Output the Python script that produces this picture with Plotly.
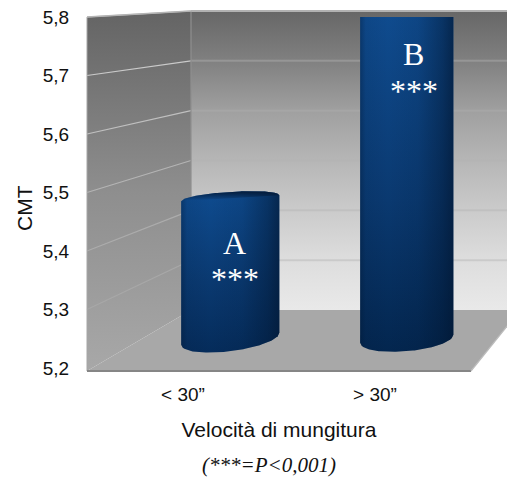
import numpy as np
import plotly.graph_objects as go

# Chart data
CATEGORIES = ["< 30”", "> 30”"]
CMT_VALUES = [5.49, 5.80]
BAR_LETTERS = ["A", "B"]
SIGNIFICANCE = ["***", "***"]
TICK_VALUES = [5.2, 5.3, 5.4, 5.5, 5.6, 5.7, 5.8]
Y_TITLE = "CMT"
X_TITLE = "Velocità di mungitura"
FOOTNOTE = "(***=P<0,001)"

# Page size and the pseudo-3D frame, in page pixels
W, H = 507, 480
FRONT_L, FRONT_R = 87, 471
BACK_L, BACK_R = 191, 507
Y52_FRONT, Y58_FRONT = 368.0, 17.0
Y52_BACK, Y58_BACK = 310.0, 11.0
FLOOR_FRONT = 371.0
BAR_BASE = 5.25


def py_flip(py):
    return H - py


def front_y(v):
    return Y52_FRONT + (v - 5.2) * (Y58_FRONT - Y52_FRONT) / 0.6


def back_y(v):
    return Y52_BACK + (v - 5.2) * (Y58_BACK - Y52_BACK) / 0.6


fig = go.Figure()


def backdrop(xs, ys, colorscale=None, start=None, stop=None, color=None):
    ys = [py_flip(p) for p in ys]
    kw = dict(x=xs, y=ys, mode="lines", line=dict(width=0), fill="toself",
              hoverinfo="skip", showlegend=False, xaxis="x", yaxis="y")
    if colorscale:
        kw["fillgradient"] = dict(type="vertical", colorscale=colorscale,
                                  start=py_flip(start), stop=py_flip(stop))
    else:
        kw["fillcolor"] = color
    fig.add_trace(go.Scatter(**kw))


def backline(xs, ys, color, width=1.6):
    fig.add_trace(go.Scatter(x=xs, y=[py_flip(p) for p in ys], mode="lines",
                             line=dict(color=color, width=width),
                             hoverinfo="skip", showlegend=False,
                             xaxis="x", yaxis="y"))


# Walls and floor
backdrop([BACK_L, W, W, BACK_L], [Y58_BACK, Y58_BACK, Y52_BACK, Y52_BACK],
         colorscale=[[0, "#e9e9e9"], [0.17, "#dddddd"], [0.33, "#cbcbcb"],
                     [0.5, "#b6b6b6"], [0.67, "#9f9f9f"], [0.84, "#7f7f7f"],
                     [1, "#676767"]],
         start=Y52_BACK, stop=Y58_BACK)
backdrop([FRONT_L, BACK_L, BACK_L, FRONT_L],
         [Y58_FRONT, Y58_BACK, Y52_BACK, FLOOR_FRONT],
         colorscale=[[0, "#a8a8a8"], [0.5, "#8e8e8e"], [1, "#646464"]],
         start=FLOOR_FRONT, stop=Y58_BACK)
backdrop([FRONT_L, BACK_L, 520, FRONT_R],
         [FLOOR_FRONT, Y52_BACK, Y52_BACK, FLOOR_FRONT], color="#a8a8a8")

# Gridlines running along the side wall and across the back wall
SIDE_GRID = ["#b0b0b0", "#a8a8a8", "#acacac", "#b4b4b4", "#c0c0c0", "#cacaca", "#bcbcbc"]
BACK_GRID = ["#a8a8a8", "#cacaca", "#c0c0c0", "#b4b4b4", "#a6a6a6", "#969696", "#adadad"]
for i, v in enumerate(TICK_VALUES[1:], start=1):
    backline([FRONT_L, BACK_L], [front_y(v), back_y(v)], SIDE_GRID[i], 1.2)
    backline([BACK_L, W], [back_y(v), back_y(v)], BACK_GRID[i], 2)
backline([BACK_L, BACK_L], [Y58_BACK, Y52_BACK], "#8f8f8f", 1.2)
backline([FRONT_L, FRONT_L], [Y58_FRONT, FLOOR_FRONT], "#a6a6a6", 1)
backline([FRONT_L, BACK_L, W], [Y58_FRONT, Y58_BACK, Y58_BACK], "#b4b4b4", 1.6)
backline([FRONT_L, FRONT_R], [FLOOR_FRONT, FLOOR_FRONT], "#868686", 2.2)
backline([FRONT_R, 520], [FLOOR_FRONT, Y52_BACK], "#bcbcbc", 1.2)

# Front plane: carries the visible axes
fig.add_trace(go.Scatter(x=CATEGORIES, y=CMT_VALUES, mode="markers",
                         marker=dict(opacity=0), hoverinfo="skip",
                         showlegend=False, xaxis="x2", yaxis="y2"))

# Cylinder plane: bar positions 0 and 1 on a numeric axis
PX_PER_UNIT = (Y52_FRONT - Y58_FRONT) / 0.6
BAR_POS = [0, 1]
HALF_W = [0.278, 0.264]
TOP_TILT = [3.0, 0.0]
TOP_RY = [6.5, 1.5]
BOT_TILT = [-6.0, -4.0]
BOT_RY = 12.5
TOP_SHADE = ["#0e4a8d", "#0f4b8e"]
BOTTOM_SHADE = ["#052c5b", "#03264f"]

fig.add_trace(go.Bar(x=BAR_POS, y=[v - BAR_BASE for v in CMT_VALUES], base=BAR_BASE,
                     width=[1.5 * hw for hw in HALF_W],
                     marker=dict(color="#0a3a72", line=dict(width=0)),
                     hoverinfo="skip", showlegend=False, cliponaxis=False,
                     xaxis="x3", yaxis="y2"))

u_up = np.linspace(-1, 1, 61)
u_dn = u_up[::-1]
for pos, value, hw, t_tilt, t_ry, b_tilt, c_top, c_bot in zip(
        BAR_POS, CMT_VALUES, HALF_W, TOP_TILT, TOP_RY, BOT_TILT, TOP_SHADE, BOTTOM_SHADE):
    top_arc = value + (t_tilt * u_up + t_ry * np.sqrt(1 - u_up**2)) / PX_PER_UNIT
    bottom_arc = BAR_BASE + (-b_tilt * u_dn - BOT_RY * np.sqrt(1 - u_dn**2)) / PX_PER_UNIT
    xs = np.concatenate([pos + hw * u_up, pos + hw * u_dn])
    ys = np.concatenate([top_arc, bottom_arc])

    # Body with its top-to-bottom fade
    fig.add_trace(go.Scatter(
        x=xs, y=ys, mode="lines", line=dict(width=0), fill="toself",
        fillgradient=dict(type="vertical", colorscale=[[0, c_bot], [0.45, "#0a3970"], [1, c_top]],
                          start=BAR_BASE - BOT_RY / PX_PER_UNIT, stop=value),
        hoverinfo="skip", showlegend=False, cliponaxis=False, xaxis="x3", yaxis="y2"))
    # Curved shading across the width
    fig.add_trace(go.Scatter(
        x=xs, y=ys, mode="lines", line=dict(width=0), fill="toself",
        fillgradient=dict(type="horizontal",
                          colorscale=[[0, "rgba(1,20,45,0.35)"], [0.06, "rgba(1,20,45,0.08)"],
                                      [0.3, "rgba(1,20,45,0)"], [0.62, "rgba(1,20,45,0.1)"],
                                      [0.88, "rgba(1,20,45,0.42)"], [1, "rgba(1,20,45,0.65)"]],
                          start=pos - hw, stop=pos + hw),
        hoverinfo="skip", showlegend=False, cliponaxis=False, xaxis="x3", yaxis="y2"))
    # Dark cap at the top of the cylinder
    chord = value + t_tilt * u_dn / PX_PER_UNIT
    fig.add_trace(go.Scatter(
        x=np.concatenate([pos + hw * u_up, pos + hw * u_dn]),
        y=np.concatenate([top_arc, chord]),
        mode="lines", line=dict(width=0), fill="toself",
        fillgradient=dict(type="vertical",
                          colorscale=[[0, "rgba(4,26,55,0)"], [1, "rgba(4,26,55,0.9)"]],
                          start=value - 2 / PX_PER_UNIT, stop=value + t_ry / PX_PER_UNIT),
        hoverinfo="skip", showlegend=False, cliponaxis=False, xaxis="x3", yaxis="y2"))


def paper_x(px):
    return px / W


def paper_y(py):
    return 1 - py / H


SERIF = "Liberation Serif"
SANS = "Liberation Sans"

annotations = []
LETTER_PX = [(234.5, 243), (413.5, 54)]
STAR_PX = [(235, 279), (414, 91)]
for letter, stars, lp, sp in zip(BAR_LETTERS, SIGNIFICANCE, LETTER_PX, STAR_PX):
    annotations.append(dict(text=letter, x=paper_x(lp[0]), y=paper_y(lp[1]),
                            font=dict(family=SERIF, size=32, color="white")))
    annotations.append(dict(text=stars, x=paper_x(sp[0]), y=paper_y(sp[1]),
                            font=dict(family=SERIF, size=32, color="white")))
annotations.append(dict(text=Y_TITLE, x=paper_x(24), y=paper_y(208), textangle=-90,
                        font=dict(family=SANS, size=21, color="#111111")))
annotations.append(dict(text="<i>" + FOOTNOTE + "</i>", x=paper_x(268.5), y=paper_y(465),
                        font=dict(family=SERIF, size=21, color="#111111")))
for a in annotations:
    a.update(xref="paper", yref="paper", xanchor="center", yanchor="middle", showarrow=False)

y_dom = [paper_y(Y52_FRONT), paper_y(Y58_FRONT)]

fig.update_layout(
    width=W, height=H,
    margin=dict(l=0, r=0, t=0, b=0),
    paper_bgcolor="white", plot_bgcolor="rgba(0,0,0,0)",
    separators=",.",
    showlegend=False, hovermode=False, barmode="overlay",
    annotations=annotations,
    xaxis=dict(domain=[0, 1], range=[0, W], visible=False, fixedrange=True),
    yaxis=dict(domain=[0, 1], range=[0, H], visible=False, fixedrange=True),
    xaxis2=dict(domain=[paper_x(FRONT_L), paper_x(FRONT_R)], anchor="y2",
                type="category", categoryorder="array", categoryarray=CATEGORIES,
                range=[-0.5, 1.5], showline=False, showgrid=False, zeroline=False,
                ticks="outside", ticklen=9, tickcolor="rgba(0,0,0,0)",
                tickfont=dict(family=SANS, size=19, color="#111111"),
                title=dict(text=X_TITLE, standoff=18,
                           font=dict(family=SANS, size=21, color="#111111")),
                automargin=False, fixedrange=True),
    yaxis2=dict(domain=y_dom, anchor="x2", range=[5.2, 5.8],
                tickmode="array", tickvals=TICK_VALUES,
                ticktext=[f"{v:.1f}".replace(".", ",") for v in TICK_VALUES],
                showline=False, showgrid=False, zeroline=False,
                ticks="outside", ticklen=13, tickcolor="rgba(0,0,0,0)",
                tickfont=dict(family=SANS, size=19, color="#111111"),
                automargin=False, fixedrange=True),
    xaxis3=dict(domain=[142 / W, 495 / W], anchor="y2", range=[-0.5, 1.5],
                visible=False, fixedrange=True),
)

fig.write_html("out.html", config=dict(displayModeBar=False))
